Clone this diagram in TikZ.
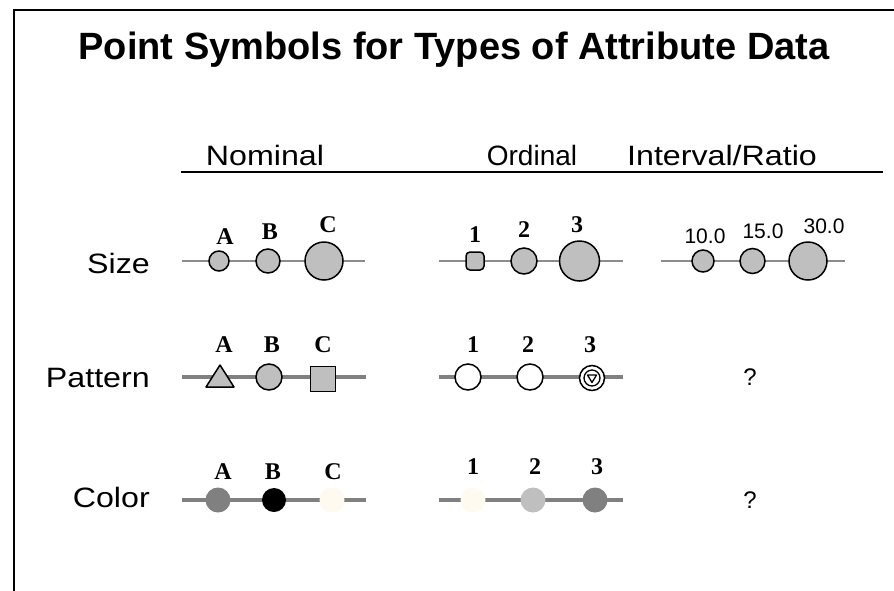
\documentclass[tikz,border=0pt]{standalone}
\usepackage{fontspec}
\setmainfont{Liberation Sans}
\newfontfamily\lblfont{Liberation Serif}
\begin{document}
\begin{tikzpicture}[x=1pt,y=-1pt,
  hdr/.style={font=\fontsize{28}{30}\selectfont, inner sep=0, xscale=1.15},
  rowlbl/.style={font=\fontsize{28}{30}\selectfont, anchor=east, inner sep=0, xscale=1.15},
  lbl/.style={font=\lblfont\bfseries\fontsize{24}{26}\selectfont, inner sep=0},
  numlbl/.style={font=\fontsize{21}{23}\selectfont, inner sep=0},
  thinline/.style={draw=black!45, line width=1.5pt},
  thickline/.style={draw=black!50, line width=4pt},
  sym/.style={draw=black, line width=1.5pt, fill=black!25},
  dot/.style={draw=none}]
\useasboundingbox (0,0) rectangle (894,590);
\fill[white] (0,0) rectangle (894,590);
% frame
\draw[line width=2.5pt] (14,600) -- (14,10) -- (900,10);
% title
\node[font=\bfseries\fontsize{38}{42}\selectfont, inner sep=0] (title) at (454,50) {Point Symbols for Types of Attribute Data};
% headers
\node[hdr] (nom) at (265,155) {Nominal};
\node[hdr, xscale=0.87] (ord) at (532,155) {Ordinal};
\node[hdr] (int) at (722,155) {Interval/Ratio};
\coordinate (ul1) at (181,172);
\coordinate (ul2) at (883,172);
\draw[line width=2pt] (ul1) -- (ul2);
% row labels
\node[rowlbl] (rsize) at (150,263) {Size};
\node[rowlbl] (rpat) at (150,378) {Pattern};
\node[rowlbl] (rcol) at (150,497) {Color};

% ---- Size row ----
\coordinate (s1a) at (182,261); \coordinate (s1b) at (365,261);
\draw[thinline] (s1a) -- (s1b);
\node[sym, circle, minimum size=20, inner sep=0] (sA) at (219,261) {};
\node[sym, circle, minimum size=24, inner sep=0] (sB) at (268,261) {};
\node[sym, circle, minimum size=38, inner sep=0] (sC) at (324,261) {};
\node[lbl] (lsA) at (225,237) {A};
\node[lbl] (lsB) at (270,232) {B};
\node[lbl] (lsC) at (328,225) {C};

\coordinate (s2a) at (439,261); \coordinate (s2b) at (623,261);
\draw[thinline] (s2a) -- (s2b);
\node[sym, rectangle, rounded corners=4, minimum size=18, inner sep=0] (s1) at (475,261) {};
\node[sym, circle, minimum size=26, inner sep=0] (s2) at (524,261) {};
\node[sym, circle, minimum size=40, inner sep=0] (s3) at (579.5,261) {};
\node[lbl] (ls1) at (475,235) {1};
\node[lbl] (ls2) at (524,230) {2};
\node[lbl] (ls3) at (577,225) {3};

\coordinate (s3a) at (661,261); \coordinate (s3b) at (845,261);
\draw[thinline] (s3a) -- (s3b);
\node[sym, circle, minimum size=22, inner sep=0] (i1) at (703,261) {};
\node[sym, circle, minimum size=25, inner sep=0] (i2) at (752.5,261) {};
\node[sym, circle, minimum size=38, inner sep=0] (i3) at (808,261) {};
\node[numlbl] (li1) at (705,236) {10.0};
\node[numlbl] (li2) at (763,231) {15.0};
\node[numlbl] (li3) at (824,226) {30.0};

% ---- Pattern row ----
\coordinate (p1a) at (182,377); \coordinate (p1b) at (366,377);
\draw[thickline] (p1a) -- (p1b);
\coordinate (pA) at (220,378);
\draw[sym, line join=round] ([shift={(-14,9)}]pA) -- ([shift={(0,-13)}]pA) -- ([shift={(14,9)}]pA) -- cycle;
\node[sym, circle, minimum size=26, inner sep=0] (pB) at (269,377) {};
\node[sym, rectangle, minimum size=25, inner sep=0] (pC) at (323,379) {};
\node[lbl] (lpA) at (224,345) {A};
\node[lbl] (lpB) at (272,345) {B};
\node[lbl] (lpC) at (323,345) {C};

\coordinate (p2a) at (439,377); \coordinate (p2b) at (623,377);
\draw[thickline] (p2a) -- (p2b);
\node[sym, fill=white, circle, minimum size=26, inner sep=0] (p1) at (468,377) {};
\node[sym, fill=white, circle, minimum size=26, inner sep=0] (p2) at (530,377) {};
\node[sym, fill=white, circle, minimum size=25, inner sep=0] (p3) at (592,378) {};
\node[draw=black, line width=1.3pt, circle, minimum size=16, inner sep=0] (p3in) at (p3) {};
\draw[line width=1.3pt, line join=round] ([shift={(-4.5,-3)}]p3.center) -- ([shift={(4.5,-3)}]p3.center) -- ([shift={(0,4.5)}]p3.center) -- cycle;
\node[lbl] (lp1) at (473,345) {1};
\node[lbl] (lp2) at (528,345) {2};
\node[lbl] (lp3) at (590,345) {3};
\node[numlbl, font=\fontsize{24}{26}\selectfont] (q1) at (750,377) {?};

% ---- Color row ----
\coordinate (c1a) at (182,500); \coordinate (c1b) at (366,500);
\draw[thickline] (c1a) -- (c1b);
\node[dot, circle, fill=black!50, minimum size=25, inner sep=0] (cA) at (218,500) {};
\node[dot, circle, fill=black, minimum size=24, inner sep=0] (cB) at (274,500) {};
\node[dot, circle, fill={rgb,255:red,255;green,250;blue,240}, minimum size=25, inner sep=0] (cC) at (332,500) {};
\node[lbl] (lcA) at (223,472) {A};
\node[lbl] (lcB) at (273,472) {B};
\node[lbl] (lcC) at (333,472) {C};

\coordinate (c2a) at (439,500); \coordinate (c2b) at (623,500);
\draw[thickline] (c2a) -- (c2b);
\node[dot, circle, fill={rgb,255:red,255;green,250;blue,240}, minimum size=25, inner sep=0] (c1) at (473,500) {};
\node[dot, circle, fill=black!25, minimum size=25, inner sep=0] (c2) at (533,500) {};
\node[dot, circle, fill=black!50, minimum size=25, inner sep=0] (c3) at (595,500) {};
\node[lbl] (lc1) at (473,467) {1};
\node[lbl] (lc2) at (535,467) {2};
\node[lbl] (lc3) at (597,467) {3};
\node[numlbl, font=\fontsize{24}{26}\selectfont] (q2) at (750,500) {?};
\end{tikzpicture}
\end{document}
